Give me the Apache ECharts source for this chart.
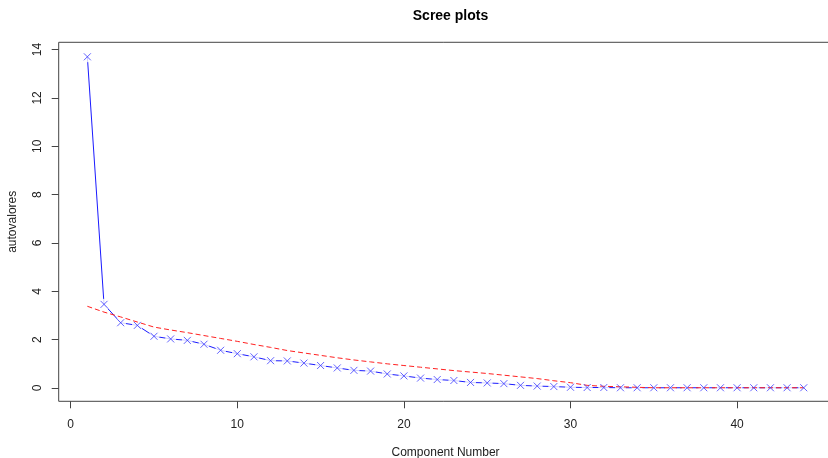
<!DOCTYPE html>
<html>
<head>
<meta charset="utf-8">
<script src="https://cdn.jsdelivr.net/npm/echarts@6/dist/echarts.min.js"></script>
<style>
html,body{margin:0;padding:0;background:#fff;}
#chart{width:828px;height:458px;}
</style>
</head>
<body>
<div id="chart"></div>
<script>
var components = [1,2,3,4,5,6,7,8,9,10,11,12,13,14,15,16,17,18,19,20,21,22,23,24,25,26,27,28,29,30,31,32,33,34,35,36,37,38,39,40,41,42,43,44];
var eigenvalues = [13.70,3.46,2.70,2.59,2.14,2.03,1.97,1.81,1.56,1.42,1.29,1.13,1.12,1.03,0.93,0.83,0.73,0.70,0.58,0.50,0.41,0.35,0.31,0.23,0.21,0.18,0.11,0.08,0.06,0.03,0.02,0.02,0.01,0.01,0.01,0.01,0.01,0.01,0.01,0.01,0.01,0.01,0.01,0.01];
var simulated = [3.38,3.14,2.94,2.73,2.52,2.40,2.29,2.17,2.05,1.93,1.80,1.68,1.55,1.45,1.35,1.25,1.16,1.08,1.00,0.93,0.86,0.79,0.72,0.66,0.60,0.53,0.46,0.39,0.30,0.22,0.11,0.07,0.05,0.03,0.01,0.01,0.01,0.01,0.01,0.01,0.01,0.01,0.01,0.01];
var xTicks = [0,10,20,30,40];
var yTicks = [0,2,4,6,8,10,12,14];

function pairs(xs, ys){ return xs.map(function(x,i){ return [x, ys[i]]; }); }

var font = '"Liberation Sans", Arial, sans-serif';
var axisCol = '#444';
var chart = echarts.init(document.getElementById('chart'), null, {renderer:'canvas'});
chart.setOption({
  animation:false,
  backgroundColor:'#fff',
  title:{text:'Scree plots', left:445.5, top:4, textAlign:'center',
    textStyle:{fontFamily:font, fontSize:14, fontWeight:'bold', color:'#000'}},
  grid:{left:58.7, top:42.3, width:773.7, height:359, show:true, borderColor:axisCol, borderWidth:1, backgroundColor:'transparent', containLabel:false, outerBoundsMode:'none'},
  xAxis:{type:'value', min:-0.72, max:45.72,
    name:'Component Number', nameLocation:'middle', nameGap:45,
    nameTextStyle:{fontFamily:font, fontSize:12, color:'#222'},
    axisLine:{show:false, onZero:false}, splitLine:{show:false},
    axisTick:{show:true, length:7, lineStyle:{color:axisCol}, customValues:xTicks},
    axisLabel:{customValues:xTicks, margin:17, fontFamily:font, fontSize:12, color:'#222'}},
  yAxis:{type:'value', min:-0.55, max:14.30,
    name:'autovalores', nameLocation:'middle', nameGap:40, nameRotate:90,
    nameTextStyle:{fontFamily:font, fontSize:12, color:'#222'},
    axisLine:{show:false, onZero:false}, splitLine:{show:false},
    axisTick:{show:true, length:7, lineStyle:{color:axisCol}, customValues:yTicks},
    axisLabel:{customValues:yTicks, rotate:90, margin:15, fontFamily:font, fontSize:12, color:'#222'}},
  series:[
    {type:'line', data:pairs(components, eigenvalues), symbol:'none', z:2,
      lineStyle:{color:'#1a1aff', width:1}},
    {type:'scatter', data:pairs(components, eigenvalues), symbol:'circle', symbolSize:11, z:3,
      itemStyle:{color:'#ffffff', borderWidth:0}},
    {type:'line', data:pairs(components, simulated), symbol:'none', z:4,
      lineStyle:{color:'#ff2020', width:1, type:[5,3]}},
    {type:'scatter', data:pairs(components, eigenvalues), symbol:'path://M0,0L10,10M0,10L10,0', symbolSize:7, z:5,
      itemStyle:{color:'rgba(0,0,0,0)', borderColor:'#3b3bff', borderWidth:1}}
  ]
});
</script>
</body>
</html>
